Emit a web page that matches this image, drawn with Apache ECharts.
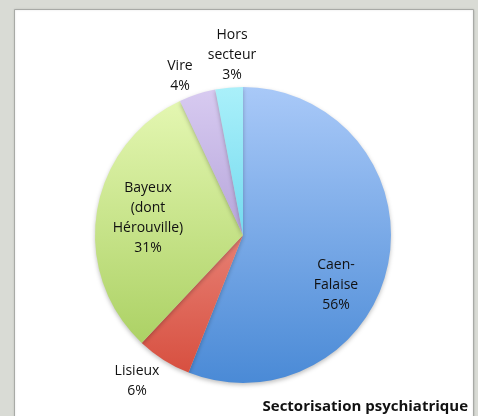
<!DOCTYPE html>
<html>
<head>
<meta charset="utf-8">
<script src="https://cdn.jsdelivr.net/npm/echarts@6/dist/echarts.min.js"></script>
<style>
  html, body { margin: 0; padding: 0; background: #d9dbd5; }
  #chart { width: 478px; height: 416px; }
</style>
</head>
<body>
<div id="chart"></div>
<script>
// Sectors, shares (%), and label text
const sectors = ['Caen-Falaise', 'Lisieux', 'Bayeux (dont Hérouville)', 'Vire', 'Hors secteur'];
const shares = [56, 6, 31, 4, 3];
const labelTexts = ['Caen-\nFalaise', 'Lisieux', 'Bayeux\n(dont\nHérouville)', 'Vire', 'Hors\nsecteur'];
const chartTitle = 'Sectorisation psychiatrique';

// Gradient stops per slice (top colour, bottom colour), shaded over the whole disc
const sliceColors = [
  ['#a9c9f8', '#4a8ad6'],
  ['#f8b4ac', '#d64c3c'],
  ['#e7f9b6', '#a3cb58'],
  ['#d8cbf1', '#9580c4'],
  ['#aaf0fa', '#3ec4e4']
];

// Label anchor points (centre of the text block)
const labelSpots = [[336, 285], [137, 381], [148, 218], [180, 76], [232, 55]];

const pieCenter = [243, 235];
const pieRadius = 148;

const chart = echarts.init(document.getElementById('chart'), null, { renderer: 'canvas' });

chart.setOption({
  animation: false,
  graphic: [{
    type: 'rect',
    shape: { x: 14.5, y: 9.5, width: 459, height: 420 },
    style: { fill: '#ffffff', stroke: '#a8aaa6', lineWidth: 1,
             shadowBlur: 2, shadowColor: 'rgba(0,0,0,0.15)' },
    z: -1
  }, {
    type: 'text',
    right: 10,
    bottom: 2,
    style: {
      text: chartTitle,
      font: 'bold 15px "Open Sans", "Noto Sans", sans-serif',
      fill: '#111111'
    }
  }],
  series: [{
    type: 'pie',
    center: pieCenter,
    radius: [0, pieRadius],
    startAngle: 90,
    clockwise: true,
    data: sectors.map((name, i) => ({
      name: name,
      value: shares[i],
      itemStyle: {
        color: new echarts.graphic.LinearGradient(
          0, pieCenter[1] - pieRadius, 0, pieCenter[1] + pieRadius, [
            { offset: 0, color: sliceColors[i][0] },
            { offset: 1, color: sliceColors[i][1] }
          ], true)
      }
    })),
    itemStyle: { borderWidth: 0, shadowBlur: 4, shadowOffsetY: 2,
                 shadowColor: 'rgba(0,0,0,0.25)' },
    label: {
      show: true,
      position: 'outside',
      alignTo: 'none',
      overflow: 'none',
      width: 200,
      formatter: p => labelTexts[p.dataIndex] + '\n' + p.value + '%',
      fontFamily: '"Open Sans", "Noto Sans", sans-serif',
      fontSize: 14,
      lineHeight: 20,
      color: '#111111',
      align: 'center',
      verticalAlign: 'middle'
    },
    labelLine: { show: false },
    labelLayout: p => ({
      x: labelSpots[p.dataIndex][0],
      y: labelSpots[p.dataIndex][1],
      align: 'center',
      verticalAlign: 'middle'
    }),
    emphasis: { disabled: true }
  }]
});
</script>
</body>
</html>
